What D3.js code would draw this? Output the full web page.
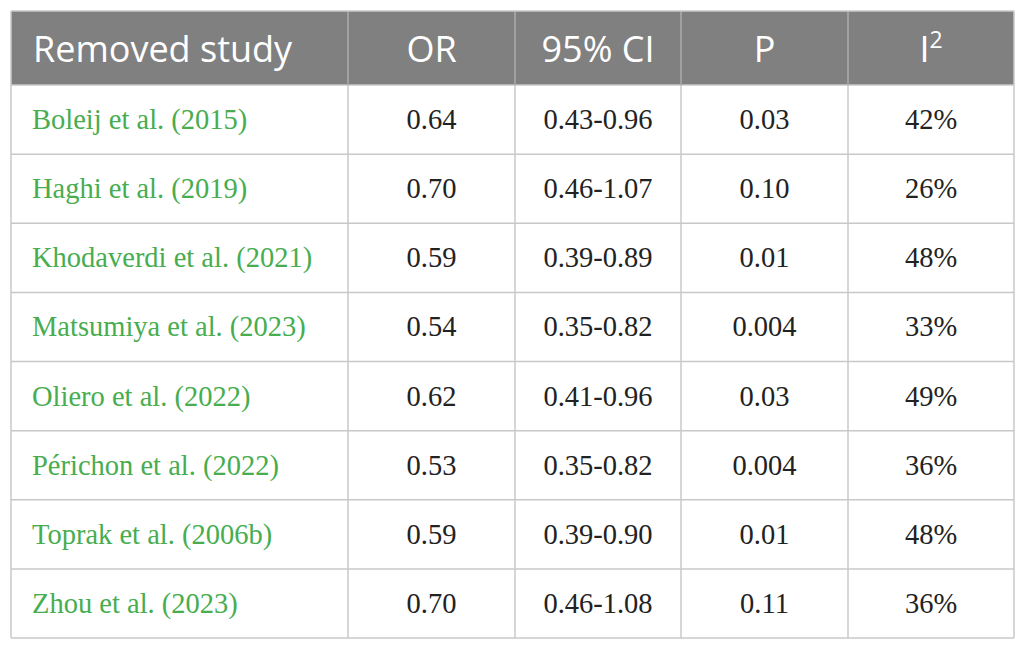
<!DOCTYPE html>
<html>
<head>
<meta charset="utf-8">
<script src="https://cdn.jsdelivr.net/npm/d3@7"></script>
<style>
  body { margin: 0; background: #fff; }
  svg { display: block; }
</style>
</head>
<body>
<svg id="chart"></svg>
<script>
const headers = ["Removed study", "OR", "95% CI", "P", "I"];
const studies = [
  "Boleij et al. (2015)",
  "Haghi et al. (2019)",
  "Khodaverdi et al. (2021)",
  "Matsumiya et al. (2023)",
  "Oliero et al. (2022)",
  "Périchon et al. (2022)",
  "Toprak et al. (2006b)",
  "Zhou et al. (2023)"
];
const orValues = ["0.64", "0.70", "0.59", "0.54", "0.62", "0.53", "0.59", "0.70"];
const ciValues = ["0.43-0.96", "0.46-1.07", "0.39-0.89", "0.35-0.82", "0.41-0.96", "0.35-0.82", "0.39-0.90", "0.46-1.08"];
const pValues = ["0.03", "0.10", "0.01", "0.004", "0.03", "0.004", "0.01", "0.11"];
const i2Values = ["42%", "26%", "48%", "33%", "49%", "36%", "48%", "36%"];

const width = 1025, height = 649;
const tLeft = 11, tRight = 1014, tTop = 11, headH = 74, tBottom = 638;
// column edges (layout)
const colEdges = [tLeft, 348, 515, 681, 848, tRight];

const rows = studies.map((s, i) => [s, orValues[i], ciValues[i], pValues[i], i2Values[i]]);

const svg = d3.select("#chart").attr("width", width).attr("height", height);

const y = d3.scaleBand()
  .domain(d3.range(rows.length))
  .range([tTop + headH, tBottom]);

const grid = "#c8c8c8";

// header
svg.append("rect")
  .attr("x", tLeft).attr("y", tTop)
  .attr("width", tRight - tLeft).attr("height", headH)
  .attr("fill", "#808080");

// body rows
const rowG = svg.selectAll("g.row")
  .data(rows)
  .enter()
  .append("g")
  .attr("class", "row")
  .attr("transform", (d, i) => `translate(0,${y(i)})`);

rowG.selectAll("text")
  .data(d => d)
  .enter()
  .append("text")
  .attr("x", (d, j) => j === 0 ? 32 : (colEdges[j] + colEdges[j + 1]) / 2)
  .attr("y", y.bandwidth() / 2 + 9.5)
  .attr("text-anchor", (d, j) => j === 0 ? "start" : "middle")
  .attr("font-family", "'Liberation Serif', 'Times New Roman', serif")
  .attr("font-size", 28.5)
  .attr("fill", (d, j) => j === 0 ? "#47ad4f" : "#222")
  .text(d => d);

// horizontal lines
svg.append("g")
  .selectAll("line")
  .data(d3.range(rows.length + 1))
  .enter()
  .append("line")
  .attr("x1", tLeft).attr("x2", tRight)
  .attr("y1", i => i === rows.length ? tBottom : y(i))
  .attr("y2", i => i === rows.length ? tBottom : y(i))
  .attr("stroke", grid).attr("stroke-width", 1.5);

// vertical lines
svg.append("g")
  .selectAll("line")
  .data(colEdges)
  .enter()
  .append("line")
  .attr("x1", d => d).attr("x2", d => d)
  .attr("y1", tTop)
  .attr("y2", tBottom)
  .attr("stroke", grid)
  .attr("stroke-width", 1.5);

// header separators drawn over gray
svg.append("g")
  .selectAll("line")
  .data(colEdges.slice(1, -1))
  .enter()
  .append("line")
  .attr("x1", d => d).attr("x2", d => d)
  .attr("y1", tTop).attr("y2", tTop + headH)
  .attr("stroke", "#9a9a9a").attr("stroke-width", 1.5);

svg.append("line")
  .attr("x1", tLeft).attr("x2", tRight)
  .attr("y1", tTop).attr("y2", tTop)
  .attr("stroke", grid).attr("stroke-width", 1.5);

// header text
const head = svg.append("g")
  .selectAll("text")
  .data(headers)
  .enter()
  .append("text")
  .attr("x", (d, j) => j === 0 ? 33 : (colEdges[j] + colEdges[j + 1]) / 2)
  .attr("y", tTop + headH / 2 + 14)
  .attr("text-anchor", (d, j) => j === 0 ? "start" : "middle")
  .attr("font-family", "'Open Sans', 'Noto Sans', sans-serif")
  .attr("font-size", 36)
  .attr("fill", "#fff")
  .text(d => d);

head.filter((d, j) => j === headers.length - 1)
  .append("tspan")
  .attr("dy", -14)
  .attr("font-size", 23)
  .text("2");
</script>
</body>
</html>
